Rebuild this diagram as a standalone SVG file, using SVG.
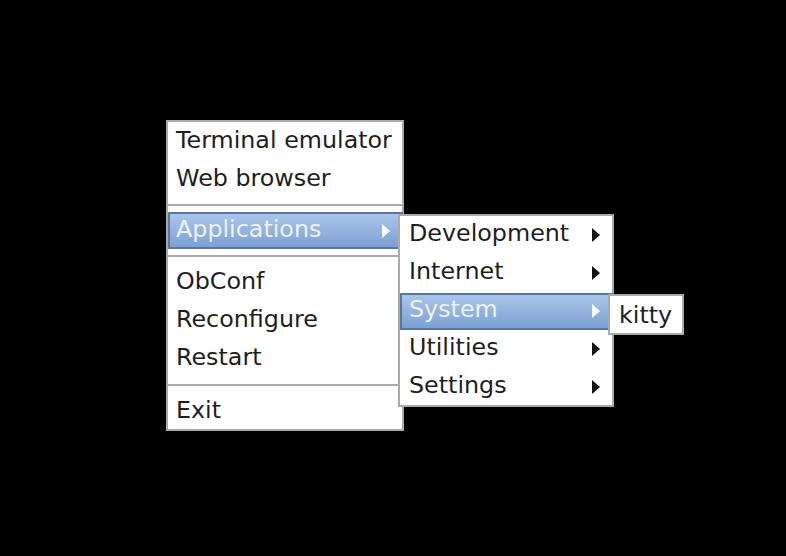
<svg xmlns="http://www.w3.org/2000/svg" width="786" height="556" viewBox="0 0 786 556">
<defs>
<linearGradient id="hl" x1="0" y1="0" x2="0" y2="1">
<stop offset="0" stop-color="#abc6ea"/>
<stop offset="1" stop-color="#7b9fd3"/>
</linearGradient>
<style>
.menu{fill:#ffffff;stroke:#aaaaaa;stroke-width:2}
.sep{stroke:#aaaaaa;stroke-width:2}
.hl{fill:url(#hl);stroke:#5675a6;stroke-width:2}
.t{font-family:"DejaVu Sans","Liberation Sans",sans-serif;font-size:23.8px;fill:#1e1e1e}
.ts{font-family:"DejaVu Sans","Liberation Sans",sans-serif;font-size:23.8px;fill:#eef2fa}
.ar{fill:#111111}
.arw{fill:#ffffff}
</style>
</defs>
<rect width="786" height="556" fill="#000000"/>
<g id="main-menu">
<rect class="menu" x="167" y="121" width="236" height="309"/>
<text class="t" x="176" y="148">Terminal emulator</text>
<text class="t" x="176" y="186">Web browser</text>
<line class="sep" x1="168" y1="205" x2="402" y2="205"/>
<rect class="hl" x="169" y="213" width="233" height="35"/>
<text class="ts" x="176" y="237">Applications</text>
<polygon class="arw" points="382,224 390,231 382,238"/>
<line class="sep" x1="168" y1="256" x2="402" y2="256"/>
<text class="t" x="176" y="289">ObConf</text>
<text class="t" x="176" y="327">Reconfigure</text>
<text class="t" x="176" y="365">Restart</text>
<line class="sep" x1="168" y1="385" x2="402" y2="385"/>
<text class="t" x="176" y="418">Exit</text>
</g>
<g id="applications-menu">
<rect class="menu" x="399" y="215" width="214" height="191"/>
<text class="t" x="409" y="241">Development</text>
<polygon class="ar" points="592,228 600,235 592,242"/>
<text class="t" x="409" y="279">Internet</text>
<polygon class="ar" points="592,266 600,273 592,280"/>
<rect class="hl" x="401" y="294" width="211" height="35"/>
<text class="ts" x="409" y="317">System</text>
<polygon class="arw" points="592,304 600,311 592,318"/>
<text class="t" x="409" y="355">Utilities</text>
<polygon class="ar" points="592,342 600,349 592,356"/>
<text class="t" x="409" y="393">Settings</text>
<polygon class="ar" points="592,380 600,387 592,394"/>
</g>
<g id="system-menu">
<rect class="menu" x="609" y="295" width="74" height="39"/>
<text class="t" x="619" y="323">kitty</text>
</g>
<g id="connectors"></g>
</svg>
